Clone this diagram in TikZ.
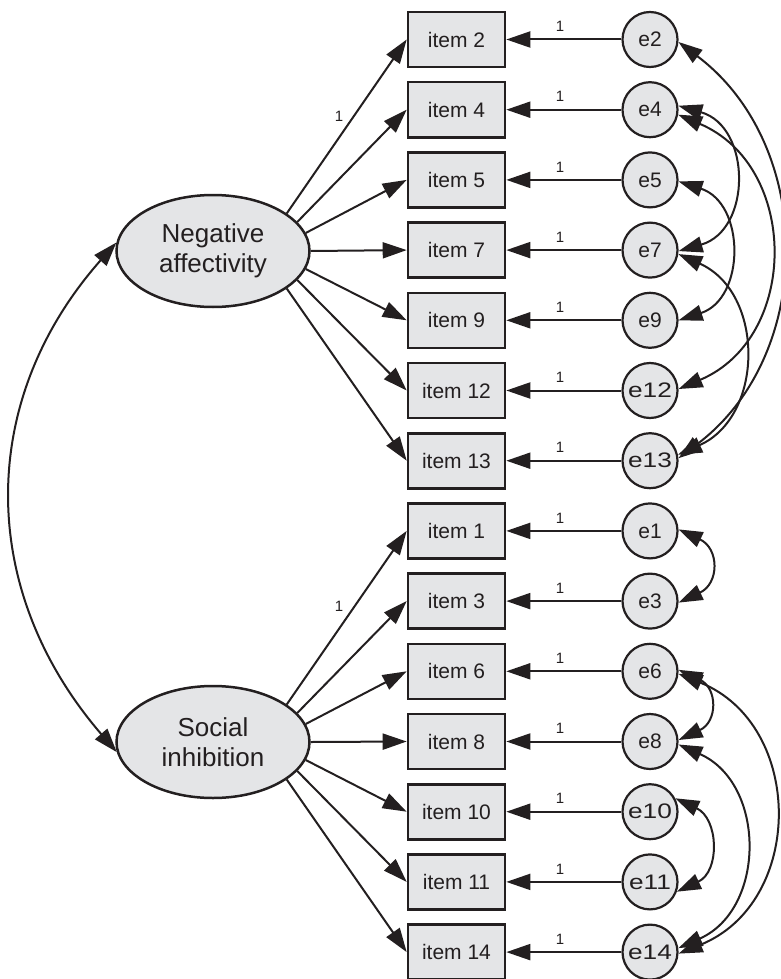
\documentclass[tikz,border=0pt]{standalone}
\usepackage{fontspec}
\setmainfont{Liberation Sans}
\usepackage{graphicx}
\usetikzlibrary{arrows.meta,shapes.geometric}
\definecolor{ink}{HTML}{231F20}
\definecolor{boxfill}{HTML}{E4E5E7}
\begin{document}
\begin{tikzpicture}[x=1pt,y=1pt,
  obs/.style={draw=ink, line width=2.6pt, fill=boxfill, minimum width=97pt, minimum height=55pt, inner sep=0pt, text=ink, font=\fontsize{21}{25}\selectfont},
  err/.style={circle, draw=ink, line width=2.2pt, fill=boxfill, minimum size=55pt, inner sep=0pt, text=ink, font=\fontsize{21}{25}\selectfont},
  lat/.style={ellipse, draw=ink, line width=2.5pt, fill=boxfill, minimum width=193pt, minimum height=112pt, inner sep=0pt, align=center, text=ink, font=\fontsize{26}{29.5}\selectfont},
  tip/.tip={Triangle[length=24pt,width=16pt]},
  pathl/.style={-tip, line width=2pt, draw=ink},
  cov/.style={tip-tip, line width=2pt, draw=ink},
  lbl/.style={text=ink, font=\fontsize{15}{18}\selectfont, inner sep=0pt}
]
\useasboundingbox (0,0) rectangle (781,-979);

\node[lat] (NA) at (213,-251) {Negative\\affectivity};
\node[lat] (SI) at (213,-742) {Social\\inhibition};

\foreach \n [count=\k from 0] in {2,4,5,7,9,12,13,1,3,6,8,10,11,14} {
  \node[obs] (i\n) at (456.5,{-(39.5+70.2*\k)}) {item \n};
  \node[err] (e\n) at (650,{-(39.5+70.2*\k)}) {\ifnum\n>9 \scalebox{1.25}[1]{e\n}\else e\n\fi};
  \draw[pathl] (e\n) -- (i\n);
  \node[lbl] (w\n) at (560,{-(26.5+70.2*\k)}) {1};
}

% loadings
\draw[pathl] (NA.27) -- (i2.west);
\draw[pathl] (NA.19) -- (i4.west);
\draw[pathl] (NA.11) -- (i5.west);
\draw[pathl] (NA.0) -- (i7.west);
\draw[pathl] (NA.-11) -- (i9.west);
\draw[pathl] (NA.-19) -- (i12.west);
\draw[pathl] (NA.-27) -- (i13.west);
\draw[pathl] (SI.27) -- (i1.west);
\draw[pathl] (SI.19) -- (i3.west);
\draw[pathl] (SI.11) -- (i6.west);
\draw[pathl] (SI.0) -- (i8.west);
\draw[pathl] (SI.-11) -- (i10.west);
\draw[pathl] (SI.-19) -- (i11.west);
\draw[pathl] (SI.-27) -- (i14.west);
\node[lbl] (lna) at (339,-116) {1};
\node[lbl] (lsi) at (339,-606) {1};

% factor covariance
\draw[cov] (NA.175) .. controls (-23,-400) and (-23,-590) .. (SI.186);

% error covariances
\draw[cov] (e2.-5) to[out=-37,in=37,looseness=1.06] (e13.5);
\draw[cov] (e4.-10) to[out=-23,in=23,looseness=1.23] (e12.3);
\draw[cov] (e4.8) to[out=-16,in=16,looseness=1.34] (e7.-2);
\draw[cov] (e5.-3) to[out=-18,in=18,looseness=1.30] (e9.0);
\draw[cov] (e7.-8) to[out=-24,in=24,looseness=1.21] (e13.12);
\draw[cov] (e1.3) to[out=-25,in=25,looseness=1.58] (e3.-3);
\draw[cov] (e6.3) to[out=-25,in=25,looseness=1.58] (e8.3);
\draw[cov] (e6.-5) to[out=-22,in=22,looseness=1.25] (e14.-3);
\draw[cov] (e8.-6) to[out=-24,in=24,looseness=1.21] (e14.8);
\draw[cov] (e10.28) to[out=-25,in=25,looseness=1.31] (e11.-20);
\end{tikzpicture}
\end{document}
